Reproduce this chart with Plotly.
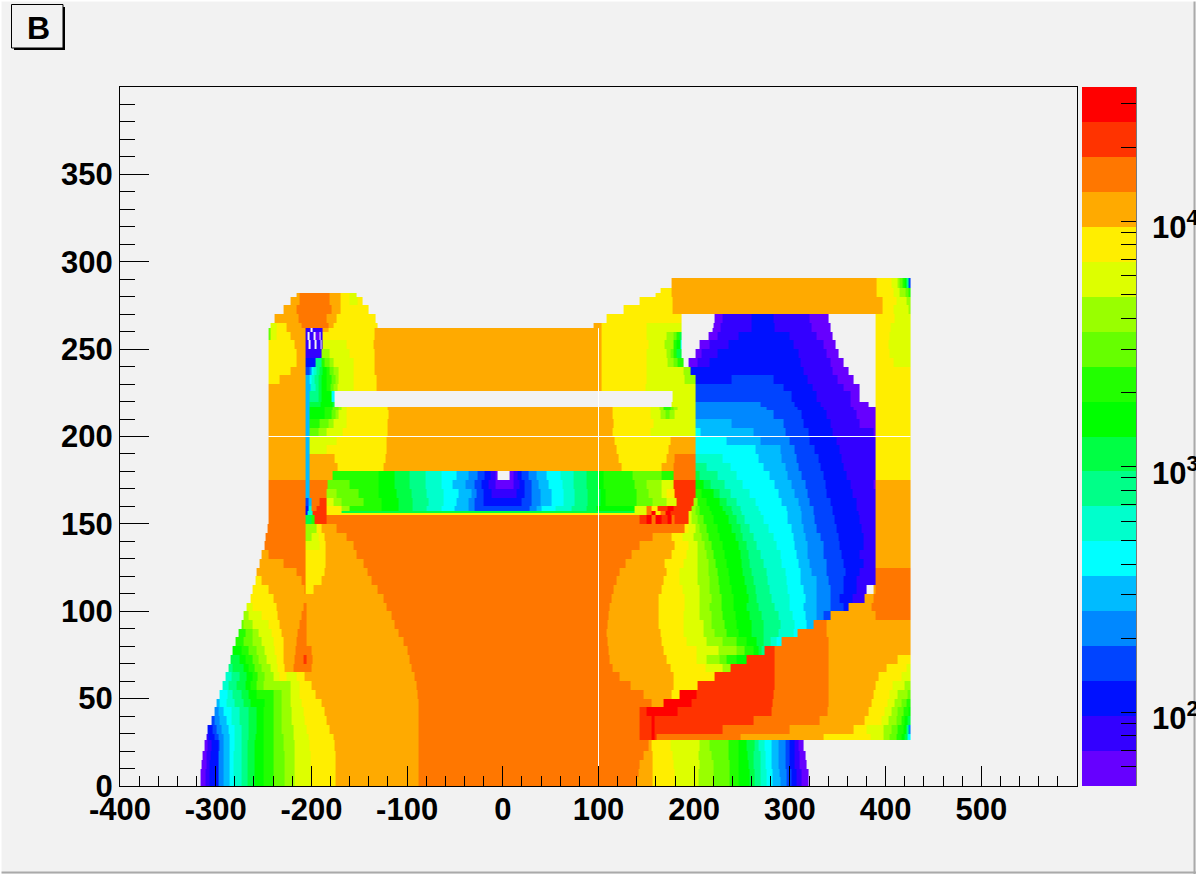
import numpy as np
import plotly.graph_objects as go

# colour bands, lowest to highest
BAND_LETTERS = list("abcdefghijklmnopqrst")
BAND_COLORS = ["#6600FF", "#3300FF", "#0011FF", "#0044FF", "#0088FF", "#00BBFF", "#00FFFF",
               "#00FFCC", "#00FF88", "#00FF44", "#00FF00", "#22FF00", "#66FF00", "#99FF00",
               "#DDFF00", "#FFEE00", "#FFAA00", "#FF7700", "#FF3300", "#FF0000"]
LOG_MIN = 1.699
LOG_MAX = 4.546

X_TICKS = [-400, -300, -200, -100, 0, 100, 200, 300, 400, 500]
X_LABELS = ["-400", "-300", "-200", "-100", "0", "100", "200", "300", "400", "500"]
Y_TICKS = [0, 50, 100, 150, 200, 250, 300, 350]
CBAR_MAJOR = [2, 3, 4]
CBAR_LABELS = ["10<sup>2</sup>", "10<sup>3</sup>", "10<sup>4</sup>"]
CBAR_VALUES = [60, 70, 80, 90, 100, 200, 300, 400, 500, 600, 700, 800, 900, 1000,
               2000, 3000, 4000, 5000, 6000, 7000, 8000, 9000, 10000, 20000, 30000]
GAP_X = [100, 100]
GAP_X_Y = [0, 262]
GAP_Y_X = [-245, 426]
GAP_Y = [200, 200]

# lower edge of each row of the map, top to bottom
ROW_BOTTOMS = [285, 282, 280, 275, 270, 265, 262, 260, 255, 250, 245, 240, 235, 230, 226, 220, 217, 215,
               210, 205, 200, 195, 190, 185, 180, 175, 170, 165, 160, 157.5, 156.5, 155, 150, 145, 140,
               135, 130, 125, 120, 115, 110, 105, 100, 95, 90, 85, 80, 75, 70, 65, 60, 55, 50, 45, 40,
               35, 30, 26.5, 20, 15, 10, 5, 0]
ROW_TOP = 290.7

# each row: x, band, x, band, ... x  ('.' = no data)
ROW_RUNS = [
"176 q 391 p 406 o 412 n 415 m 418 l 420 k 422 i 424 d 426",
"165 p 176 q 391 p 408 o 415 n 421 m 424 l 426",
"-215 q -212 r -181 q -170 p -160 o -153 . 160 p 176 q 391 p 408 o 415 n 421 m 424 l 426",
"-222 q -212 r -181 q -170 p -160 o -152 p -147 . 143 p 177 q 397 p 411 o 422 n 426",
"-229 q -215 r -179 q -170 p -140 . 126 p 177 q 397 p 408 o 424 n 426",
"-238 q -213 r -184 q -174 p -133 . 108 p 187 . 221 a 230 b 260 c 283 b 321 a 340 . 390 p 409 o 426",
"-243 o -236 p -226 q -210 r -182 q -177 p -131 . 95 q 103 p 150 o 187 . 220 a 228 b 260 c 284 b 323 a 342 . 390 p 405 o 426",
"-245 m -243 o -236 p -226 q -206 b -201 . -199 b -188 q -182 p -134 q 103 p 150 o 187 . 219 a 228 b 260 c 284 b 323 a 342 . 390 p 405 o 426",
"-245 m -243 o -236 p -222 q -206 b -204 . -202 b -198 . -196 a -192 . -190 b -188 p -134 q 103 p 150 o 171 n 178 m 182 l 185 j 187 . 215 a 224 b 246 c 300 b 328 a 345 . 390 p 404 o 426",
"-245 p -218 q -206 b -203 . -201 b -197 . -195 b -190 . -189 b -188 o -163 p -135 q 103 p 152 o 169 n 178 l 182 k 186 g 187 . 206 a 216 b 236 c 304 b 335 a 348 . 390 p 403 o 426",
"-245 p -216 q -206 b -189 n -181 o -160 p -134 q 103 p 150 o 171 n 175 m 178 l 182 j 187 . 201 a 208 b 224 c 309 b 338 a 351 . 390 p 404 o 426",
"-245 p -216 q -206 c -196 i -189 l -186 m -181 n -177 o -156 p -134 q 103 p 150 o 172 n 178 m 183 l 189 . 194 a 203 b 216 c 311 b 342 a 356 . 390 p 408 o 426",
"-245 p -222 q -206 d -201.5 e -200 g -198 h -195 i -192 j -188 k -184 l -181 m -177 n -172 o -156 p -134 q 103 p 150 o 189 n 196 c 314 b 345 a 361 . 390 p 426",
"-245 p -233 q -206 f -201.5 g -200 h -197 i -193 j -189 k -184 l -179 m -175 n -172 o -156 p -132 q 103 p 150 o 190 n 201 c 239 d 283 c 318 b 350 a 366 . 390 p 426",
"-245 q -206 f -201 h -196 i -193 j -189 k -184 l -180 m -177 n -173 o -156 p -132 q 103 p 149 o 201 d 293 c 324 b 356 a 373 . 390 p 426",
"-245 q -206 f -201.5 i -193 j -189 k -179 g -176 . 177 o 201 d 302 c 328 b 363 a 373 . 390 p 426",
"-245 q -206 f -201.5 j -190 k -178 j -176 . 176 o 201 e 269 d 305 c 332 b 363 a 382 . 390 p 426",
"-245 q -206 f -201.5 k -186 l -178 m -172 n -168 o -163 p -120 q 115 p 154 o 164 n 168 l 175 m 178 n 183 o 201 e 276 d 308 c 335 b 366 a 390 p 426",
"-245 q -206 f -201.5 k -186 l -179 m -175 n -172 o -163 p -119 q 115 p 154 o 165 n 170 m 174 n 179 o 201 e 283 d 312 c 338 b 370 a 390 p 426",
"-245 q -206 f -201.5 l -191 m -182 n -177 o -163 p -120 q 116 p 158 o 201 f 239 e 293 d 314 c 342 b 373 a 390 p 426",
"-245 q -206 f -201.5 m -193 n -184 o -167 p -120 q 115 p 154 o 201 g 207 f 262 e 295 d 319 c 345 b 387 a 390 p 426",
"-245 q -206 f -201.5 o -174 p -121 q 117 p 175 q 201 g 234 f 269 e 300 d 321 c 349 b 390 p 426",
"-245 q -206 f -201.5 o -184 p -121 q 119 p 173 q 201 g 264 f 290 e 305 d 326 c 352 b 390 p 426",
"-245 q -206 f -201.5 q -176 p -123 q 121 p 171 q 180 r 201 h 230 g 267 f 291 e 307 d 330 c 354 b 390 p 426",
"-245 q -206 f -201.5 q -173 p -125 q 124 p 166 q 178 r 201 i 213 h 238 g 272 f 295 e 309 d 332 c 356 b 390 p 426",
"-245 q -206 f -201.5 q -178 l -130 k -113 j -97 i -81 h -64 g -48 f -36 e -25.5 d -18.6 c -13.4 b -8 a -4.6 . 7.5 a 11 b 15 c 20 d 27 e 35 f 46 g 60 h 74 i 88 j 100 k 105 l 136 m 166 l 178 r 201 j 206 i 224 h 244 g 279 f 298 e 312 d 335 c 359 b 390 p 426",
"-245 r -206 f -201.5 r -183 m -160 l -130 k -113 j -97 i -81 h -64 g -52 f -39 e -29 d -22 c -15 b -8 a 11 b 18 c 23 d 30 e 37 f 48 g 62 h 74 i 88 j 100 k 105 l 138 m 150 n 166 o 178 s 201 k 210 j 217 i 232 h 251 g 284 f 302 e 316 d 337 c 363 b 387 a 390 q 426",
"-245 r -206 f -201.5 r -184 n -174 m -151 l -130 k -111 j -95 i -80 h -62 g -46 f -33 e -27 d -20 c -12 b 14.5 c 23 d 30 e 39 f 51 g 63 h 75 i 89 j 102 k 107 l 140 m 152 n 166 o 171 p 180 s 201 l 208 k 220 j 227 i 238 h 258 g 288 f 305 e 318 d 338 c 365 b 390 q 426",
"-245 r -206 d -203 f -200 r -192 s -184 o -177 n -168 m -146 l -127 k -109 j -94 i -78 h -62 g -48 f -36 e -29 d -20 c 20 d 30 e 39 f 51 g 63 h 75 i 89 j 102 k 107 l 140 m 157 n 171 o 182 s 199 n 203 l 213 k 227 j 234 i 244 h 264 g 291 f 309 e 321 d 342 c 370 b 390 q 426",
"-245 r -206 c -203 h -200 r -195 s -184 p -168 n -160 l -127 k -109 j -94 i -80 h -64 g -50 f -36 e -29 d 28 e 35 f 41 g 55 h 72 i 88 j 98 k 138 o 150 r 155 p 162 s 172 t 178 s 197 n 201 m 206 l 216 k 230 j 239 i 248 h 267 g 297 f 311 e 325 d 345 c 370 b 390 q 426",
"-245 r -206 c -204 h -199 s -184 p -168 j 138 o 150 r 155 t 160 p 165 r 170 t 175 s 194 o 197 n 201 m 206 l 218 k 233 j 240 i 250 h 269 g 298 f 312 e 325 d 345 c 372 b 390 q 426",
"-245 r -206 c -204 h -199 s -184 p 138 o 150 r 155 t 160 p 165 r 170 t 175 s 194 o 197 n 201 m 206 l 218 k 233 j 240 i 250 h 269 g 298 f 312 e 325 d 345 c 372 b 390 q 426",
"-245 r -206 j -200 l -197 s -184 r 143 s 150 t 155 r 160 t 166 s 172 t 176 r 180 s 194 o 197 n 203 m 210 l 220 k 236 j 244 i 253 h 272 g 298 f 312 e 326 d 347 c 373 b 390 q 426",
"-246 r -206 n -195 p -189 q -174 r 190 p 194 o 201 n 206 m 213 l 224 k 239 j 248 i 258 h 278 g 302 f 314 e 328 d 349 c 375 b 390 q 426",
"-248 r -206 n -200 o -193 p -186 q -163 r 157 q 176 p 188 o 199 n 208 m 215 l 227 k 243 j 251 i 262 h 283 g 304 f 316 e 332 d 351 c 377 b 390 q 426",
"-249 r -206 o -192 p -185 q -156 r 143 q 180 p 194 o 204 n 211 m 218 l 230 k 246 j 255 i 265 h 286 g 305 f 318 e 335 d 352 c 377 b 390 q 426",
"-252 q -245 r -206 p -185 q -153 r 135 q 176 p 192 o 204 n 213 m 220 l 232 k 248 j 257 i 269 h 290 g 307 f 318 e 335 d 354 c 373 b 390 q 426",
"-254 q -229 r -206 p -185 q -146 r 128 q 169 p 189 o 204 n 215 m 222 l 234 k 250 j 258 i 272 h 291 g 309 f 321 e 338 d 356 c 377 b 390 q 426",
"-257 q -215 r -206 p -186 q -141 r 122 q 171 p 185 o 204 n 215 m 224 l 236 k 251 j 260 i 276 h 295 g 311 f 323 e 338 d 358 c 373 b 390 r 426",
"-258 p -252 q -210 r -206 p -189 q -137 r 119 q 168 p 185 o 204 n 216 m 225 l 237 k 253 j 262 i 277 h 297 g 311 f 328 e 340 d 356 c 370 b 390 r 426",
"-261 p -245 q -207 r -206 p -198 q -131 r 116 q 166 p 188 o 206 n 216 m 227 l 239 k 255 j 264 i 279 h 298 g 314 f 328 e 342 d 356 c 370 b 380 . 387 q 390 r 426",
"-264 p -240 q -125 r 114 q 163 p 190 o 206 n 218 m 229 l 241 k 257 j 265 i 281 h 300 g 316 f 328 e 342 d 352 c 365 b 378 q 387 r 426",
"-268 o -261 p -236 q -208 r -205 q -121 r 112 q 163 p 190 o 206 n 216 m 229 l 241 k 255 j 267 i 284 h 300 g 314 f 328 e 342 d 356 c 361 q 385 r 426",
"-271 n -266 o -252 p -235 q -210 r -205 q -116 r 110 q 163 p 189 o 206 n 218 m 230 l 243 k 258 j 270 i 288 h 303 g 316 f 328 e 335 d 343 q 389 r 426",
"-273 m -271 n -261 o -245 p -233 q -212 r -205 q -113 r 109 q 163 p 189 o 210 n 218 m 232 l 244 k 260 j 272 i 290 h 305 g 317 f 325 r 338 q 426",
"-276 l -269 m -262 n -255 o -242 p -231 q -214 r -205 q -109 r 108 q 165 p 189 o 210 n 221 m 234 l 246 k 260 j 272 i 288 h 304 g 308 r 338 q 426",
"-279 l -271 m -261 n -252 o -240 p -229 q -215 r -205 q -104 r 109 q 166 p 192 o 213 n 230 m 244 l 255 k 265 j 272 i 280 h 286 g 291 r 340 q 426",
"-282 k -273 l -266 m -257 n -249 o -238 p -229 q -217 r -200 q -100 r 110 q 168 p 202 o 225 n 244 m 253 l 262 k 267 j 270 i 273 s 284 r 340 q 426",
"-284 j -275 k -269 l -262 m -255 n -247 o -236 p -229 q -218 r -208 s -205 r -199 q -97 r 112 q 171 p 202 o 213 n 227 m 234 l 244 k 255.5 s 284 r 340 q 413 p 426",
"-287 i -282 j -271 k -266 l -259 m -252 n -243 o -235 p -228 q -219 r -200 q -95 r 115 q 175 p 212 o 230 n 238 s 284 r 340 q 401 p 422 o 426",
"-290 h -283 i -275 j -268 k -262 l -256 m -249 n -240 o -233 p -226 o -215 p -207 q -92 r 122 q 178 p 220.6 s 284 r 340 q 393 p 417 o 426",
"-293 h -287 i -278 j -269 k -264 l -257 m -250 n -222 o -212 p -200 q -90 r 133 q 178 p 203 s 284 r 340 q 389 p 407 o 420 n 426",
"-296 g -288 h -282 i -273 j -266 k -257 l -240 m -231 n -222 o -212 p -196 q -89 r 147 q 176 p 185.5 t 202 s 283 r 340 q 387 p 404 o 413 n 423 m 426",
"-299 f -296 g -289 h -280 i -271 j -264 k -249 l -240 m -231 n -222 o -210 p -189 q -88 r 155.5 q 168 t 197 s 282 r 340 q 385 p 402 o 409 n 417 m 422 l 426",
"-301 e -297 f -292 g -283 h -275 i -266 j -257 k -250 l -240 m -231 n -221 o -208 p -186 q -88 r 143 s 150 t 183 s 281 r 339 q 382 p 399 o 406 n 413 m 419 l 424 k 426",
"-304 d -301 e -296 f -289 g -283 h -275 i -266 j -257 k -250 l -240 m -231 n -221 o -207 p -184 q -88 r 143 s 155 t 159 s 262 r 331 q 378 p 396 o 403 n 411 m 417 l 420 k 423 j 426",
"-308 c -303 d -299 e -294 f -287 g -280 h -273 i -266 j -257 k -250 l -240 m -230.5 n -219 o -205 p -181 q -88 r 143 s 155 t 159 s 230 r 300 q 366 p 380 o 398 n 406 m 413 l 419 k 422 i 424 e 426",
"-310 b -307 c -301 d -297 e -292 f -286 g -280 h -273 i -266 j -258 k -250 l -240 m -229 n -219 o -203 p -177 q -88 r 143 s 155 t 159 s 161 r 248 q 335 p 384 o 398 n 404.5 m 411.5 l 417 k 420 j 423 g 426",
"-312 a -308 b -304 c -297 d -296 e -292 f -286 g -280 h -273 i -267 j -259 k -250 l -240 m -229 n -218 o -202 p -176 q -88 r 152 q 155.5 p 175 o 206 n 216.5 m 235.6 l 246 k 255 j 263.5 i 267 h 274 g 281 f 288 e 295 d 300 c 305 b 309 a 314",
"-314 a -310 b -305 c -297 e -292 f -286 g -281 h -273 i -267 j -259 k -250 l -240 m -228 n -218 o -201 p -175 q -88 r 147 q 156 p 177 o 205 n 218 m 236 l 246 k 256 j 262 i 269 h 275 g 281 f 288 e 295 d 300 c 305 b 310 a 316",
"-315 a -310 b -306 c -297 e -292 f -286 g -281 h -273 i -267 j -259 k -250 l -240 m -228 n -218 o -201 p -175 q -88 r 143 q 156.6 p 178 o 206 n 220 m 237 l 246 k 257 j 262 i 269 h 275 g 281 f 288 e 295 d 300 c 305 b 310.5 a 317.5",
"-315.5 a -311 b -306 c -297 e -292 f -286 g -281 h -273 i -267 j -259 k -250 l -240 m -228 n -218 o -201 p -175 q -88 r 141.6 q 156.6 p 179 o 205 n 220 m 237 l 246 k 258 j 263 i 269 h 276 g 282 f 289 e 296 d 302 c 307 b 312 a 319",
"-316 a -311 b -306 c -297 e -292 f -286 g -281 h -273 i -267 j -259 k -250 l -240 m -228 n -218 o -201 p -175 q -88 r 140 q 156.6 p 180 o 205 n 220 m 237 l 246 k 258 j 263 i 269.5 h 276 g 282 f 290 e 297 d 302 c 307 b 312 a 319",
]

# ---- build the map from the rows ----
x_edges = np.arange(-320.0, 427.0, 1.0)
x_mid = (x_edges[:-1] + x_edges[1:]) / 2
band_step = (LOG_MAX - LOG_MIN) / len(BAND_COLORS)


def expand(runs):
    out = np.full(x_mid.shape, np.nan)
    tok = runs.split()
    for i in range(0, len(tok) - 1, 2):
        x0, band, x1 = float(tok[i]), tok[i + 1], float(tok[i + 2])
        if band != ".":
            mask = (x_mid >= x0) & (x_mid < x1)
            out[mask] = LOG_MIN + (BAND_LETTERS.index(band) + 0.5) * band_step
    return out


z = np.array([expand(r) for r in ROW_RUNS[::-1]])
y_edges = np.array(ROW_BOTTOMS[::-1] + [ROW_TOP])

scale = []
n = len(BAND_COLORS)
for i, c in enumerate(BAND_COLORS):
    scale += [[i / n, c], [(i + 1) / n, c]]

cbar_vals = [float(np.log10(v)) for v in CBAR_VALUES]

# pixel layout of the frame
W, H = 1196, 874
L, R, T, B = 120, 1077, 87, 786


def px(v):
    return (v - L) / (R - L)


def py(v):
    return (B - v) / (B - T)


def cby(v):
    return (v - LOG_MIN) / (LOG_MAX - LOG_MIN)


FONT = "Liberation Sans"
fig = go.Figure()
fig.add_trace(go.Heatmap(
    x=x_edges, y=y_edges, z=z, zmin=LOG_MIN, zmax=LOG_MAX, colorscale=scale, hoverongaps=False,
    colorbar=dict(x=px(1082), xanchor="left", xpad=0, ypad=0, y=0, yanchor="bottom", len=1,
                  thickness=54, outlinewidth=0, tickmode="array", tickvals=cbar_vals,
                  showticklabels=False, ticks="inside", ticklen=15, tickwidth=1, tickcolor="black"),
))
fig.add_trace(go.Scatter(x=GAP_X, y=GAP_X_Y, mode="lines", line=dict(color="white", width=1),
                         showlegend=False, hoverinfo="skip"))
fig.add_trace(go.Scatter(x=GAP_Y_X, y=GAP_Y, mode="lines", line=dict(color="white", width=1),
                         showlegend=False, hoverinfo="skip"))

shapes = [
    dict(type="line", xref="paper", yref="paper", x0=px(1136), x1=px(1136), y0=py(T), y1=py(B),
         line=dict(color="black", width=1)),
    dict(type="line", xref="paper", yref="paper", x0=px(1194.5), x1=px(1194.5), y0=py(0), y1=py(H),
         line=dict(color="#AAAAAA", width=2)),
    dict(type="line", xref="paper", yref="paper", x0=px(0), x1=px(W), y0=py(872.5), y1=py(872.5),
         line=dict(color="#AAAAAA", width=2)),
    dict(type="line", xref="paper", yref="paper", x0=px(0), x1=px(W), y0=py(0.5), y1=py(0.5),
         line=dict(color="white", width=2)),
    dict(type="line", xref="paper", yref="paper", x0=px(0.5), x1=px(0.5), y0=py(0), y1=py(H),
         line=dict(color="white", width=2)),
    dict(type="rect", xref="paper", yref="paper", x0=px(14), x1=px(65), y0=py(7), y1=py(50),
         fillcolor="black", line=dict(color="black", width=0)),
    dict(type="rect", xref="paper", yref="paper", x0=px(11.5), x1=px(63), y0=py(4.5), y1=py(48),
         fillcolor="#F2F2F2", line=dict(color="black", width=1)),
]
for v in CBAR_MAJOR:
    shapes.append(dict(type="line", xref="paper", yref="paper", x0=px(1107), x1=px(1136),
                       y0=cby(v), y1=cby(v), line=dict(color="black", width=1)))

axis_font = dict(family=FONT, size=31, color="black", weight=700)
annotations = [dict(text="B", xref="paper", yref="paper", x=px(38), y=py(28), showarrow=False,
                    xanchor="center", yanchor="middle",
                    font=dict(family=FONT, size=32, color="black", weight=700))]
for v, label in zip(CBAR_MAJOR, CBAR_LABELS):
    annotations.append(dict(text=label, xref="paper", yref="paper", x=px(1150), y=cby(v) - 4 / (B - T),
                            showarrow=False, xanchor="left", yanchor="middle", align="left",
                            font=axis_font))

fig.update_layout(
    width=W, height=H, autosize=False,
    margin=dict(l=L, r=W - R, t=T, b=H - B, pad=0, autoexpand=False),
    paper_bgcolor="#F2F2F2", plot_bgcolor="#F2F2F2", showlegend=False,
    xaxis=dict(range=[-400, 600], tickmode="array", tickvals=X_TICKS, ticktext=X_LABELS, ticks="inside",
               ticklen=20, tickwidth=1, tickcolor="black", showgrid=False, zeroline=False, showline=True,
               linecolor="black", linewidth=1, mirror=True, tickfont=axis_font, ticklabelstandoff=-4,
               minor=dict(tick0=-400, dtick=20, ticks="inside", ticklen=10, tickwidth=1,
                          tickcolor="black", showgrid=False)),
    yaxis=dict(range=[0, 400], tickmode="array", tickvals=Y_TICKS, ticks="inside", ticklen=29,
               tickwidth=1, tickcolor="black", showgrid=False, zeroline=False, showline=True,
               linecolor="black", linewidth=1, mirror=True, tickfont=axis_font,
               minor=dict(tick0=0, dtick=10, ticks="inside", ticklen=15, tickwidth=1,
                          tickcolor="black", showgrid=False)),
    shapes=shapes,
    annotations=annotations,
)
fig.write_html("out.html", config={"displayModeBar": False},
               post_script="document.body.style.margin='0';")
